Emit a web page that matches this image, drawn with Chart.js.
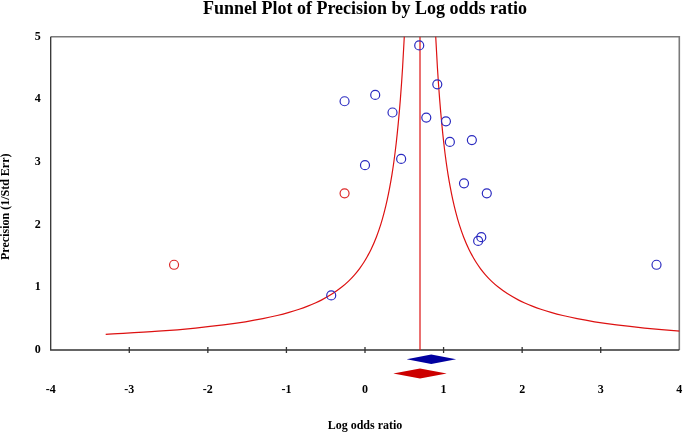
<!DOCTYPE html>
<html>
<head>
<meta charset="utf-8">
<script src="https://cdn.jsdelivr.net/npm/chart.js@4"></script>
<style>
  body { margin: 0; background: #fff; }
  #wrap { width: 685px; height: 433px; }
</style>
</head>
<body>
<div id="wrap"><canvas id="funnel"></canvas></div>
<script>
// studies (log odds ratio vs precision)
const studyX = [0.69, 0.92, -0.26, 0.13, 0.35, 0.78, 1.03, 1.08, 1.36, 0.46, 0.00, 1.26, 1.55, 1.48, 1.44, -0.43, 3.71];
const studyY = [4.86, 4.24, 3.97, 4.07, 3.79, 3.71, 3.65, 3.32, 3.35, 3.05, 2.95, 2.66, 2.50, 1.80, 1.74, 0.87, 1.36];

// imputed studies (trim and fill)
const imputedX = [-0.26, -2.43];
const imputedY = [2.50, 1.36];

// combined estimates: [observed, adjusted]
const pooledEst = [0.843, 0.70];
const pooledLo = [0.53, 0.36];
const pooledHi = [1.16, 1.04];

// funnel limits
const funnelPrec = [0.25, 0.30, 0.35, 0.40, 0.45, 0.50, 0.55, 0.60, 0.65, 0.70, 0.75, 0.80, 0.90, 1.00, 1.10, 1.20, 1.30, 1.40, 1.50, 1.60, 1.80, 2.00, 2.20, 2.40, 2.60, 2.80, 3.00, 3.30, 3.60, 4.00, 4.50, 5.00, 5.50];
const funnelLeftX = [-3.300, -2.633, -2.157, -1.800, -1.522, -1.300, -1.118, -0.967, -0.838, -0.729, -0.633, -0.550, -0.411, -0.300, -0.209, -0.133, -0.069, -0.014, 0.033, 0.075, 0.144, 0.200, 0.245, 0.283, 0.315, 0.343, 0.367, 0.397, 0.422, 0.450, 0.478, 0.500, 0.518];
const funnelRightX = [4.700, 4.033, 3.557, 3.200, 2.922, 2.700, 2.518, 2.367, 2.238, 2.129, 2.033, 1.950, 1.811, 1.700, 1.609, 1.533, 1.469, 1.414, 1.367, 1.325, 1.256, 1.200, 1.155, 1.117, 1.085, 1.057, 1.033, 1.003, 0.978, 0.950, 0.922, 0.900, 0.882];

const xTicks = [-4, -3, -2, -1, 0, 1, 2, 3, 4];
const yTicks = [0, 1, 2, 3, 4, 5];

const serif = "'Liberation Serif', 'Times New Roman', serif";
const toPts = (xs, ys) => xs.map((x, i) => ({ x, y: ys[i] }));

const frame = {
  id: 'frame',
  beforeDatasetsDraw(chart) {
    const { ctx, scales: { x, y } } = chart;
    const L = x.getPixelForValue(xTicks[0]);
    const R = x.getPixelForValue(xTicks[xTicks.length - 1]);
    const T = y.getPixelForValue(yTicks[yTicks.length - 1]);
    const B = y.getPixelForValue(0);
    ctx.save();
    ctx.strokeStyle = '#7a7a7a';
    ctx.lineWidth = 1.6;
    ctx.beginPath();
    ctx.moveTo(L, T); ctx.lineTo(R, T); ctx.lineTo(R, B);
    ctx.stroke();
    ctx.strokeStyle = '#333';
    ctx.lineWidth = 1.3;
    ctx.beginPath();
    ctx.moveTo(L, T); ctx.lineTo(L, B); ctx.lineTo(R, B);
    xTicks.slice(1, -1).forEach(v => {
      const px = x.getPixelForValue(v);
      ctx.moveTo(px, B - 3); ctx.lineTo(px, B + 3);
    });
    ctx.stroke();
    ctx.restore();
  },
  afterDatasetsDraw(chart) {
    const { ctx, scales: { x, y } } = chart;
    const B = y.getPixelForValue(0);
    const rows = [{ dy: 9.3, h: 4.7, c: '#0000a0' }, { dy: 23.5, h: 5, c: '#cc0000' }];
    ctx.save();
    rows.forEach((r, i) => {
      const cy = B + r.dy;
      ctx.fillStyle = r.c;
      ctx.beginPath();
      ctx.moveTo(x.getPixelForValue(pooledLo[i]), cy);
      ctx.lineTo(x.getPixelForValue(pooledEst[i]), cy - r.h);
      ctx.lineTo(x.getPixelForValue(pooledHi[i]), cy);
      ctx.lineTo(x.getPixelForValue(pooledEst[i]), cy + r.h);
      ctx.closePath();
      ctx.fill();
    });
    ctx.restore();
  }
};

const lineStyle = {
  type: 'line',
  borderColor: '#dd1111',
  borderWidth: 1.2,
  pointRadius: 0,
  fill: false,
  cubicInterpolationMode: 'monotone'
};

new Chart(document.getElementById('funnel'), {
  type: 'scatter',
  data: {
    datasets: [
      {
        label: 'Studies',
        data: toPts(studyX, studyY),
        pointStyle: 'circle',
        pointRadius: 4.5,
        pointBorderWidth: 1.2,
        borderColor: '#2b2bc0',
        backgroundColor: 'rgba(0,0,0,0)'
      },
      {
        label: 'Imputed',
        data: toPts(imputedX, imputedY),
        pointStyle: 'circle',
        pointRadius: 4.5,
        pointBorderWidth: 1.2,
        borderColor: '#dd2a2a',
        backgroundColor: 'rgba(0,0,0,0)'
      },
      { ...lineStyle, label: 'Lower limit', data: toPts(funnelLeftX, funnelPrec) },
      { ...lineStyle, label: 'Upper limit', data: toPts(funnelRightX, funnelPrec) },
      {
        ...lineStyle,
        label: 'Estimate',
        cubicInterpolationMode: 'default',
        data: [{ x: pooledEst[1], y: 0 }, { x: pooledEst[1], y: yTicks[yTicks.length - 1] }]
      }
    ]
  },
  options: {
    responsive: true,
    maintainAspectRatio: false,
    animation: false,
    layout: { padding: 0 },
    plugins: {
      legend: { display: false },
      tooltip: { enabled: false },
      title: {
        display: true,
        text: 'Funnel Plot of Precision by Log odds ratio',
        color: '#000',
        fullSize: false,
        font: { family: serif, size: 18, weight: 'bold', lineHeight: 0.8 },
        padding: { top: 1.8, bottom: 20.5 }
      }
    },
    scales: {
      x: {
        min: -4,
        max: 4,
        afterBuildTicks: s => { s.ticks = xTicks.map(v => ({ value: v })); },
        afterFit: s => { s.height = 56.2; s.paddingLeft = 0; s.paddingRight = 0; },
        grid: { display: false, drawTicks: false },
        border: { display: false },
        ticks: { color: '#000', padding: 6, font: { family: serif, size: 12, weight: 'bold' } },
        title: {
          display: true,
          text: 'Log odds ratio',
          color: '#000',
          font: { family: serif, size: 12, weight: 'bold' },
          padding: { top: 20, bottom: 0 }
        }
      },
      y: {
        min: -0.428,
        max: 5,
        afterBuildTicks: s => { s.ticks = yTicks.map(v => ({ value: v })); },
        afterFit: s => { s.width = 50.7; s.paddingTop = 0; s.paddingBottom = 0; },
        grid: { display: false, drawTicks: false },
        border: { display: false },
        ticks: { color: '#000', padding: 10, font: { family: serif, size: 12, weight: 'bold' } },
        title: {
          display: true,
          text: 'Precision (1/Std Err)',
          color: '#000',
          font: { family: serif, size: 12, weight: 'bold', lineHeight: 1 },
          padding: 0
        }
      }
    }
  },
  plugins: [frame]
});
</script>
</body>
</html>
